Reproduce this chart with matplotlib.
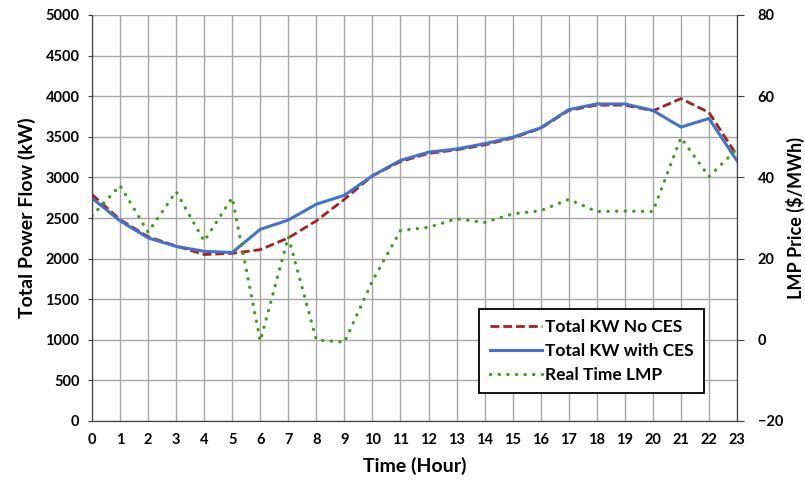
import matplotlib
matplotlib.use("Agg")
from matplotlib import pyplot as plt

hours = list(range(24))
kw_no_ces = [2790, 2480, 2270, 2155, 2050, 2065, 2110, 2255, 2465, 2730, 3020, 3195,
             3295, 3340, 3400, 3485, 3605, 3825, 3890, 3890, 3820, 3970, 3800, 3270]
kw_with_ces = [2745, 2465, 2255, 2150, 2090, 2075, 2360, 2475, 2670, 2780, 3020, 3210,
               3310, 3350, 3415, 3495, 3610, 3835, 3905, 3905, 3825, 3620, 3725, 3205]
lmp = [30.5, 38, 26.5, 36.5, 24.3, 35, -0.3, 25.4, 0, -0.6, 14.5, 26.9,
       27.7, 29.8, 28.9, 31, 31.8, 34.6, 31.6, 31.7, 31.6, 49.8, 40.2, 47]

plt.rcParams['font.family'] = ['Lato', 'DejaVu Sans']
plt.rcParams['font.weight'] = 'bold'

fig = plt.figure(figsize=(8.05, 4.83), dpi=100)
ax = fig.add_axes([92 / 805, 1 - 421 / 483, 645 / 805, 406 / 483])

l1, = ax.plot(hours, kw_no_ces, color="#a52224", lw=2.0, linestyle=(0, (3.2, 1.4)),
              label="Total KW No CES", zorder=3)
l2, = ax.plot(hours, kw_with_ces, color="#4472c4", lw=2.2, label="Total KW with CES", zorder=4)

ax.set_xlim(0, 23)
ax.set_ylim(0, 5000)
ax.set_xticks(hours)
ax.set_yticks(range(0, 5001, 500))
ax.grid(True, color="#a6a6a6", lw=1.0)
ax.set_axisbelow(True)
ax.tick_params(axis="x", length=0, pad=9, labelsize=10.5)
ax.tick_params(axis="y", length=3, pad=6, labelsize=10.5, color="#404040")
ax.set_xlabel("Time (Hour)", fontsize=14, fontweight="bold", labelpad=7)
ax.set_ylabel("Total Power Flow (kW)", fontsize=14, fontweight="bold", labelpad=7)
ax.spines["top"].set_visible(False)
for s in ["left", "bottom", "right"]:
    ax.spines[s].set_color("#404040")

ax2 = ax.twinx()
l3, = ax2.plot(hours, lmp, color="#3f9a1c", lw=2.3, linestyle=(0, (0.1, 2.6)),
               dash_capstyle="round", label="Real Time LMP")
ax2.set_ylim(-20, 80)
ax2.set_yticks(range(-20, 81, 20))
ax2.tick_params(axis="y", length=5, pad=10, labelsize=10.5, color="#404040")
ax2.set_ylabel("LMP Price ($/MWh)", fontsize=13, fontweight="bold", labelpad=2)
ax2.spines["top"].set_visible(False)
for s in ["left", "bottom", "right"]:
    ax2.spines[s].set_color("#404040")

leg = ax2.legend(handles=[l1, l2, l3], loc="lower right", bbox_to_anchor=(0.963, 0.047),
                 fancybox=False, framealpha=1, edgecolor="black", fontsize=12.5,
                 handlelength=3.0, handletextpad=0.2, borderpad=0.6, labelspacing=0.45)
leg.get_frame().set_linewidth(1.3)
for t in leg.get_texts():
    t.set_fontweight("bold")

fig.savefig("out.png", dpi=100)
